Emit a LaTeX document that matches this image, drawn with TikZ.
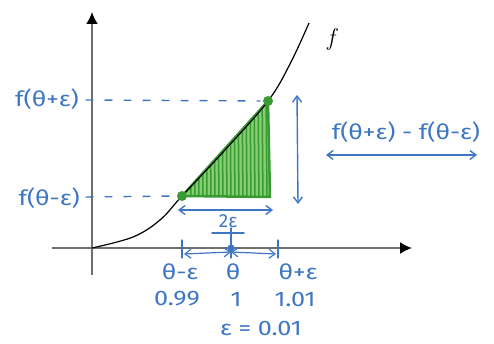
\documentclass[tikz,border=0pt]{standalone}
\usepackage{fontspec}
\usepackage{graphicx}
\setmainfont{Fira Sans}
\usetikzlibrary{arrows.meta,calc}
\definecolor{hblue}{RGB}{62,118,196}
\definecolor{hgreen}{RGB}{55,155,50}
\definecolor{lgreen}{RGB}{135,205,115}
\definecolor{axgray}{RGB}{110,110,110}
\newcommand\hw[1]{\scalebox{1.2}[1]{#1}}
\tikzset{
  lbl/.style={text=hblue, font=\fontsize{21}{24}\selectfont, inner sep=0pt},
  hline/.style={draw=hblue, line width=1.4pt, line cap=round},
  dashline/.style={hline, dash pattern=on 7pt off 12pt},
  harrow/.style={hline, {Straight Barb[length=6pt,width=9pt]}-{Straight Barb[length=6pt,width=9pt]}},
  axis/.style={draw=axgray, line width=1.8pt, -{Latex[length=12pt,width=12pt,color=black]}},
  gdot/.style={circle, fill=hgreen, minimum size=10pt, inner sep=0pt},
  tick/.style={hline, line width=1.2pt},
}
\begin{document}
\begin{tikzpicture}[x=1pt,y=-1pt]
\useasboundingbox (0,0) rectangle (494,344);
% axes
\coordinate (O) at (92,248);
\coordinate (ytop) at (92,12);
\coordinate (ybot) at (92,275);
\coordinate (xl) at (52,248);
\coordinate (xr) at (412,248);
\draw[axis] (ybot) -- (ytop);
\draw[axis] (xl) -- (xr);
% triangle
\coordinate (A) at (182,196);
\coordinate (B) at (268,101);
\coordinate (C) at (270,197);
\fill[lgreen] (A) -- (B) -- (C) -- cycle;
\begin{scope}
\clip (A) -- (B) -- (C) -- cycle;
\foreach \xx in {190,194,...,270}
  \draw[hgreen, line width=1.5pt] (\xx,90) -- (\xx+1,200);
\end{scope}
\draw[hgreen, line width=2.5pt, line join=round] (A) -- (B) -- (C) -- cycle;
% curve
\draw[black, line width=1.2pt] plot[smooth, tension=0.6] coordinates {(92,248) (133,237) (160,220) (182,196) (225,150) (268,101) (290,64) (309,23)};
\node[gdot] (dA) at (A) {};
\node[gdot] (dB) at (B) {};
\node[inner sep=0pt] (f) at (331,40) {\fontspec{Latin Modern Roman}\fontsize{24}{26}\selectfont\itshape f};
% left labels and dashed guides
\node[lbl, anchor=east] (fp) at (79,99) {\hw{f(θ+ε)}};
\node[lbl, anchor=east] (fm) at (80,198) {\hw{f(θ-ε)}};
\coordinate (fp1) at (86,100);
\coordinate (fm1) at (86,197);
\draw[dashline] (fp1) -- ($(B)+(-8,0)$);
\draw[dashline] (fm1) -- ($(A)+(-6,0)$);
% vertical difference arrow
\coordinate (vt) at (297,95);
\coordinate (vb) at (298,204);
\draw[harrow] (vt) -- (vb);
\node[lbl, anchor=center] (diff) at (406,132) {\hw{f(θ+ε) - f(θ-ε)}};
\coordinate (dl) at (326,155);
\coordinate (dr) at (477,155);
\draw[harrow] (dl) -- (dr);
% horizontal 2eps arrow
\coordinate (hl) at (178,210);
\coordinate (hr) at (273,210);
\draw[harrow] (hl) -- (hr);
\node[lbl, font=\fontsize{19}{21}\selectfont] (two) at (228,221) {2ε};
\coordinate (bl) at (212,233);
\coordinate (br) at (244,233);
\draw[hline] (bl) -- (br);
% ticks
\coordinate (tl1) at (182,240); \coordinate (tl2) at (182,258);
\coordinate (tc1) at (231,228); \coordinate (tc2) at (231,258);
\coordinate (tr1) at (278,240); \coordinate (tr2) at (278,258);
\draw[tick] (tl1) -- (tl2);
\draw[tick] (tc1) -- (tc2);
\draw[tick] (tr1) -- (tr2);
\coordinate (al) at (184,254); \coordinate (ac) at (231,252); \coordinate (ar) at (276,254);
\draw[harrow, line width=1.2pt] (al) -- (ac);
\draw[harrow, line width=1.2pt] (ac) -- (ar);
\node[circle, fill=hblue, minimum size=7pt, inner sep=0pt] (cdot) at (231,248) {};
% bottom labels
\node[lbl] (l1) at (180,272) {\hw{θ-ε}};
\node[lbl] (l2) at (233,272) {\hw{θ}};
\node[lbl] (l3) at (298,272) {\hw{θ+ε}};
\node[lbl] (n1) at (177,299) {\hw{0.99}};
\node[lbl] (n2) at (236,299) {\hw{1}};
\node[lbl] (n3) at (295,299) {\hw{1.01}};
\node[lbl] (eps) at (261,328) {\hw{ε = 0.01}};
\end{tikzpicture}
\end{document}
